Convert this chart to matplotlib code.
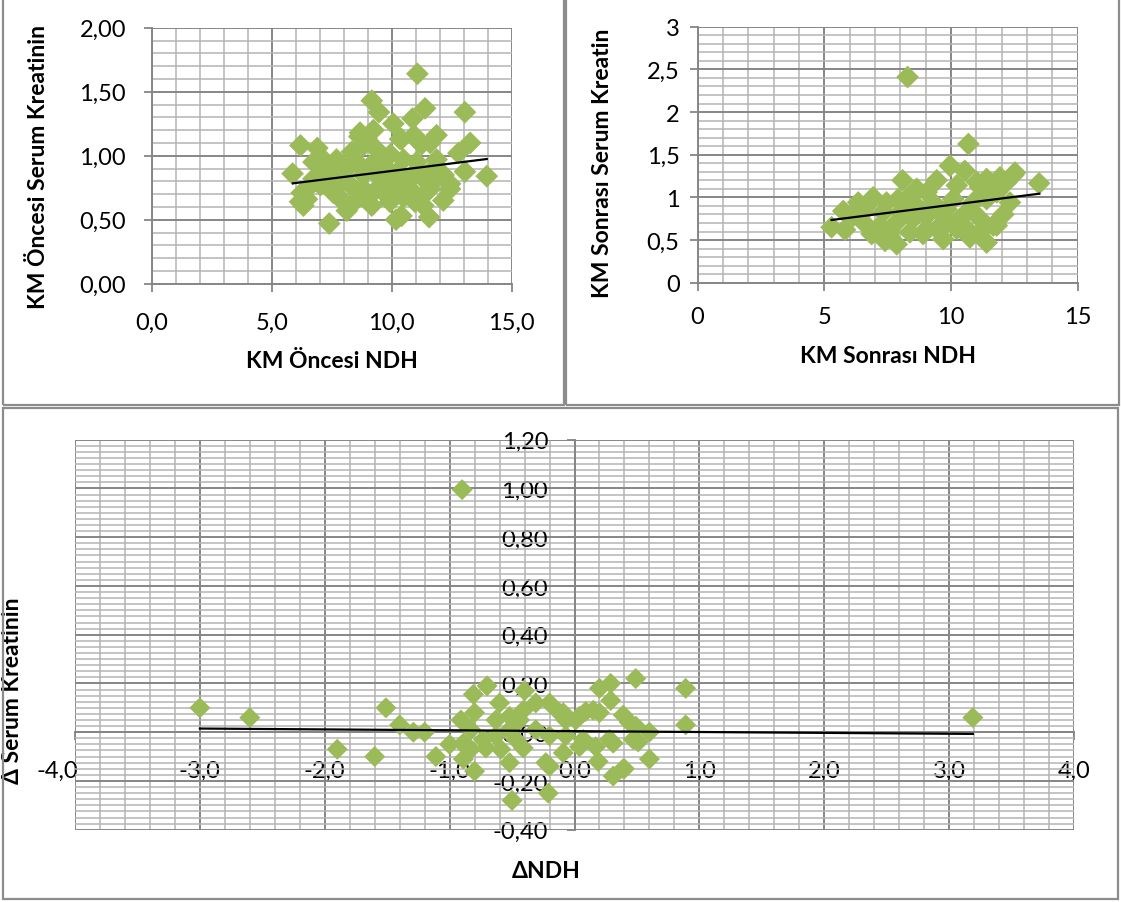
import matplotlib
matplotlib.use("Agg")
import matplotlib.pyplot as plt
from matplotlib.patches import Rectangle
from matplotlib.ticker import MultipleLocator, FixedLocator, FixedFormatter
import matplotlib.transforms as mtransforms

plt.rcParams['font.family'] = ['Lato', 'DejaVu Sans']

# ---------------- data ----------------
pre_ndh = [11.07, 9.17, 9.47, 11.39, 10.87, 13.05, 10.07, 6.2, 6.9, 8.65,
           9.24, 10.35, 11.25, 11.87, 13.27, 12.78, 5.87, 13.96, 13.05, 12.43,
           12.15, 11.56, 10.18, 10.41, 7.4, 6.18, 6.25, 8.13, 7.72, 7.44,
           9.17, 8.96, 9.79, 10.97, 11.32, 11.59, 11.94, 11.87, 11.04, 10.49,
           9.95, 9.36, 8.82, 8.34, 7.72, 7.16, 6.74, 6.47, 7.44, 8.13,
           8.55, 8.82, 9.38, 9.66, 10.2, 10.76, 11.32, 11.59, 8.82, 9.38,
           10.2, 10.76, 9.93, 10.49, 8.55, 8.0, 8.28, 7.86, 7.03, 6.47,
           12.16, 12.43, 11.32, 9.1, 9.93, 10.49, 10.97, 9.38, 8.96, 10.93,
           11.6, 7.16, 6.74, 6.32, 7.57, 7.7, 8.68, 10.41, 11.18]
pre_kreat = [1.64, 1.43, 1.34, 1.37, 1.29, 1.34, 1.25, 1.08, 1.06, 1.15,
             1.20, 1.13, 1.09, 1.16, 1.10, 1.02, 0.86, 0.84, 0.875, 0.78,
             0.65, 0.52, 0.50, 0.53, 0.47, 0.64, 0.71, 0.57, 0.69, 0.74,
             0.61, 0.69, 0.69, 0.64, 0.69, 0.74, 0.84, 0.97, 0.95, 0.97,
             1.01, 1.05, 1.08, 1.03, 0.95, 0.90, 0.82, 0.74, 0.85, 0.90,
             0.95, 0.85, 0.85, 0.92, 0.87, 0.82, 0.82, 0.87, 0.74, 0.74,
             0.74, 0.74, 0.64, 0.675, 0.66, 0.64, 0.77, 0.79, 0.77, 0.66,
             0.85, 0.74, 0.61, 0.92, 0.79, 0.79, 0.87, 0.95, 1.13, 1.16,
             1.10, 0.97, 0.95, 0.61, 0.71, 0.97, 1.18, 1.13, 1.10]
pre_trend_x = [5.88, 13.96]
pre_trend_y = [0.784, 0.974]

post_ndh = [8.29, 10.69, 8.09, 9.96, 10.55, 9.44, 13.48, 12.46, 11.94, 11.41,
            11.15, 11.67, 10.23, 8.65, 5.29, 5.82, 5.75, 6.34, 6.93, 7.46,
            7.92, 6.54, 6.87, 7.40, 7.86, 8.38, 9.04, 9.70, 10.75, 11.41,
            12.07, 11.67, 11.15, 10.36, 9.83, 9.04, 8.51, 7.86, 7.2, 8.65,
            9.30, 10.09, 10.88, 11.41, 11.81, 10.75, 9.57, 7.99, 6.54, 9.04,
            8.25, 9.83, 10.23, 10.62, 11.15, 8.9, 9.44, 7.59, 6.15, 6.67,
            7.33, 12.2, 11.02, 12.33, 12.53, 11.81]
post_kreat = [2.41, 1.625, 1.20, 1.37, 1.31, 1.20, 1.165, 1.26, 1.235, 1.215,
              1.12, 1.10, 1.14, 1.10, 0.65, 0.62, 0.84, 0.94, 1.00, 0.94,
              0.98, 0.71, 0.57, 0.49, 0.45, 0.59, 0.63, 0.51, 0.53, 0.47,
              0.80, 0.67, 0.75, 0.75, 0.71, 0.785, 0.75, 0.71, 0.67, 0.90,
              0.94, 0.98, 0.94, 0.98, 1.06, 0.86, 0.825, 0.825, 0.825, 1.06,
              0.98, 0.86, 0.63, 0.63, 0.59, 0.57, 0.63, 0.59, 0.785, 0.90,
              0.825, 1.18, 1.18, 0.94, 1.29, 0.67]
post_trend_x = [5.29, 13.49]
post_trend_y = [0.735, 1.043]

delta_ndh = [-0.90, -3.0, -2.6, -1.90, -1.60, -1.51, -1.40, -1.29, -1.20, -1.11,
             -0.70, -0.81, -0.40, -0.60, -0.91, -0.80, -0.80, -0.50, -0.21, 0.20,
             0.29, 0.49, 0.29, 0.31, 0.40, 0.19, -0.20, -0.09, -0.52, -1.0,
             -0.89, -0.73, -0.63, -0.47, -0.41, -0.63, -0.52, -0.41, -0.31, -0.20,
             -0.09, 0.01, 0.09, 0.20, 0.39, 0.44, 0.51, 0.07, 0.17, 0.28,
             -0.20, -0.31, -0.52, -0.83, -0.83, -0.71, -0.59, -0.89, 0.89, 0.89,
             3.19, 0.49, 0.60, 0.60, 0.39, -0.23, -0.87, -0.44, -0.12, 0.15,
             -0.07, 0.04, 0.31, 0.47, 0.04, -0.07]
delta_kreat = [0.995, 0.10, 0.06, -0.07, -0.10, 0.10, 0.03, 0.0, 0.0, -0.10,
               0.19, 0.155, 0.17, 0.12, 0.05, 0.08, -0.16, -0.28, -0.25, 0.18,
               0.20, 0.22, 0.13, -0.18, -0.15, -0.12, -0.14, -0.085, -0.125, -0.05,
               -0.045, -0.03, -0.015, -0.03, -0.065, 0.05, 0.065, 0.09, 0.12, 0.12,
               0.08, 0.05, 0.085, 0.08, 0.07, 0.04, -0.04, -0.03, -0.06, -0.03,
               -0.015, 0.01, 0.01, 0.01, -0.07, -0.065, -0.07, -0.11, 0.18, 0.03,
               0.06, 0.025, 0.0, -0.11, -0.15, -0.125, -0.06, 0.05, 0.08, 0.09,
               0.05, 0.065, -0.045, -0.03, -0.06, -0.015]
delta_trend_x = [-3.0, 3.19]
delta_trend_y = [0.015, -0.007]

pre_xticks = [0, 5, 10, 15]
pre_xticklabels = ['0,0', '5,0', '10,0', '15,0']
pre_yticks = [0, 0.5, 1.0, 1.5, 2.0]
pre_yticklabels = ['0,00', '0,50', '1,00', '1,50', '2,00']

post_xticks = [0, 5, 10, 15]
post_xticklabels = ['0', '5', '10', '15']
post_yticks = [0, 0.5, 1, 1.5, 2, 2.5, 3]
post_yticklabels = ['0', '0,5', '1', '1,5', '2', '2,5', '3']

delta_xticks = [-4, -3, -2, -1, 0, 1, 2, 3, 4]
delta_xticklabels = ['-4,0', '-3,0', '-2,0', '-1,0', '0,0', '1,0', '2,0', '3,0', '4,0']
delta_yticks = [-0.4, -0.2, 0.0, 0.2, 0.4, 0.6, 0.8, 1.0, 1.2]
delta_yticklabels = ['-0,40', '-0,20', '0,00', '0,20', '0,40', '0,60', '0,80', '1,00', '1,20']

# ---------------- style ----------------
GREEN = '#9BBB59'
MAJ = '#868686'
MIN = '#B4B4B4'
W, H = 1121, 903
TICK_FS = 17
TITLE_FS = 16.5

fig = plt.figure(figsize=(W / 100, H / 100), dpi=100)


def px_axes(l, r, t, b):
    return fig.add_axes([l / W, (H - b) / H, (r - l) / W, (b - t) / H])


def style(ax, xminor, yminor):
    ax.xaxis.set_minor_locator(MultipleLocator(xminor))
    ax.yaxis.set_minor_locator(MultipleLocator(yminor))
    ax.grid(True, which='minor', color=MIN, lw=1.1, zorder=0)
    ax.grid(True, which='major', color=MAJ, lw=1.4, zorder=0)
    ax.set_axisbelow(True)
    ax.tick_params(which='minor', length=0)
    ax.tick_params(which='major', length=6, width=1.3, color=MAJ,
                   labelsize=TICK_FS, direction='out')
    for s in ax.spines.values():
        s.set_color(MAJ)
        s.set_linewidth(1.4)


# panel borders
for (l, r, t, b) in [(3, 564, -5, 406), (566, 1119, -5, 406), (3, 1118, 409, 900)]:
    fig.add_artist(Rectangle((l / W, (H - b) / H), (r - l) / W, (b - t) / H,
                             transform=fig.transFigure, fill=False,
                             ec='#8C8C8C', lw=1.6))

# ---- top-left ----
ax1 = px_axes(151.7, 511.7, 28.7, 284.7)
ax1.set_xlim(0, 15)
ax1.set_ylim(0, 2)
style(ax1, 1, 0.1)
ax1.xaxis.set_major_locator(FixedLocator(pre_xticks))
ax1.xaxis.set_major_formatter(FixedFormatter(pre_xticklabels))
ax1.yaxis.set_major_locator(FixedLocator(pre_yticks))
ax1.yaxis.set_major_formatter(FixedFormatter(pre_yticklabels))
ax1.tick_params(axis='x', pad=14)
ax1.tick_params(axis='y', pad=12.5)
ax1.scatter(pre_ndh, pre_kreat, marker='D', s=135, color=GREEN,
            edgecolors='none', zorder=3)
ax1.plot(pre_trend_x, pre_trend_y, color='black', lw=1.6, zorder=4)
ax1.set_xlabel('KM Öncesi NDH', fontsize=TITLE_FS, fontweight='bold')
ax1.set_ylabel('KM Öncesi Serum Kreatinin', fontsize=TITLE_FS, fontweight='bold')
ax1.xaxis.label.set_va('center')
ax1.yaxis.label.set_va('center')
ax1.xaxis.set_label_coords(0.5, -0.30)
ax1.yaxis.set_label_coords(-0.315, 0.46)
ax1.spines['top'].set_visible(False)
ax1.spines['right'].set_visible(False)

# ---- top-right ----
ax2 = px_axes(697.6, 1077.6, 27.7, 283.7)
ax2.set_xlim(0, 15)
ax2.set_ylim(0, 3)
style(ax2, 1, 0.1)
ax2.xaxis.set_major_locator(FixedLocator(post_xticks))
ax2.xaxis.set_major_formatter(FixedFormatter(post_xticklabels))
ax2.yaxis.set_major_locator(FixedLocator(post_yticks))
ax2.yaxis.set_major_formatter(FixedFormatter(post_yticklabels))
ax2.tick_params(axis='x', pad=11)
ax2.tick_params(axis='y', pad=7)
ax2.scatter(post_ndh, post_kreat, marker='D', s=135, color=GREEN,
            edgecolors='none', zorder=3)
ax2.plot(post_trend_x, post_trend_y, color='black', lw=1.6, zorder=4)
ax2.set_xlabel('KM Sonrası NDH', fontsize=TITLE_FS, fontweight='bold')
ax2.set_ylabel('KM Sonrası Serum Kreatin', fontsize=TITLE_FS, fontweight='bold')
ax2.xaxis.label.set_va('center')
ax2.yaxis.label.set_va('center')
ax2.xaxis.set_label_coords(0.5, -0.285)
ax2.yaxis.set_label_coords(-0.25, 0.47)
ax2.spines['top'].set_visible(False)
ax2.spines['right'].set_visible(False)

# ---- bottom ----
ax3 = px_axes(75, 1074, 440.7, 830.7)
ax3.set_xlim(-4, 4)
ax3.set_ylim(-0.4, 1.2)
style(ax3, 0.2, 0.025)
ax3.xaxis.set_major_locator(FixedLocator(delta_xticks))
ax3.xaxis.set_major_formatter(FixedFormatter(delta_xticklabels))
ax3.yaxis.set_major_locator(FixedLocator(delta_yticks))
ax3.yaxis.set_major_formatter(FixedFormatter(delta_yticklabels))
ax3.spines['left'].set_position(('data', 0))
ax3.spines['bottom'].set_position(('data', 0))
ax3.spines['top'].set_visible(False)
ax3.spines['right'].set_visible(False)
ax3.tick_params(axis='x', pad=14)
ax3.tick_params(axis='y', pad=13)
ax3.scatter(delta_ndh, delta_kreat, marker='D', s=115, color=GREEN,
            edgecolors='none', zorder=3)
ax3.plot(delta_trend_x, delta_trend_y, color='black', lw=1.6, zorder=4)
ax3.set_xlabel('ΔNDH', fontsize=TITLE_FS, fontweight='bold')
ax3.set_ylabel('Δ Serum Kreatinin', fontsize=TITLE_FS, fontweight='bold')
ax3.xaxis.label.set_va('center')
ax3.yaxis.label.set_va('center')
ax3.xaxis.set_label_coords(0.472, -0.105)
ax3.yaxis.set_label_coords(-0.063, 0.36)

fig.canvas.draw()
first = ax3.get_xticklabels()[0]
first.set_transform(first.get_transform() +
                    mtransforms.ScaledTranslation(-18 / 100, 0, fig.dpi_scale_trans))

fig.savefig('out.png', dpi=100)
